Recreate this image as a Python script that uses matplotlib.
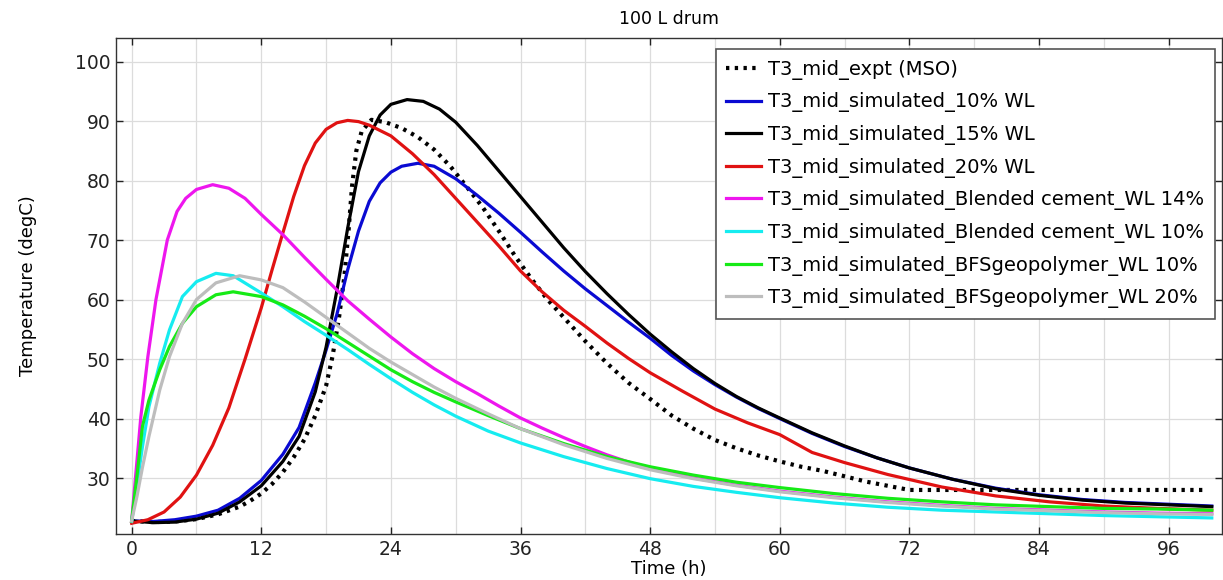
import matplotlib
matplotlib.use('Agg')
import matplotlib.pyplot as plt

# 读图估计的数据（时间 h，温度 degC）
expt_t = [0, 2, 4, 6, 8, 10, 11, 12, 13, 14, 15, 16, 17, 18, 18.6, 19.2, 19.7, 20.1, 20.4, 20.8, 21.3, 22.2,
          23.5, 25, 26.5, 28, 29.5, 31, 32.5, 34, 35.5, 37, 38.5, 40, 42, 44, 46, 48, 50, 52, 54, 56, 58, 60,
          62, 64, 66, 68, 70, 72, 76, 80, 84, 88, 92, 96, 99.5]
expt_T = [22.8, 22.6, 22.7, 23.1, 23.9, 25.2, 26.2, 27.4, 29.0, 31.0, 33.5, 36.5, 40.5, 45.5, 50.5, 57.0, 64.0,
          72.0, 79.0, 85.0, 88.3, 90.2, 89.8, 88.8, 87.3, 85.2, 82.4, 79.0, 75.5, 71.5, 67.3, 63.5, 60.0, 57.0,
          53.0, 49.3, 46.0, 43.3, 40.5, 38.3, 36.4, 35.0, 33.8, 32.8, 31.9, 31.2, 30.3, 29.4, 28.7, 28.0,
          28.0, 28.0, 28.0, 28.0, 28.0, 28.0, 28.0]

blue_t = [0, 2, 4, 6, 8, 10, 12, 14, 15.5, 17, 18, 19, 20, 21, 22, 23, 24, 25, 26.5, 28,
          30, 32, 34, 36, 38, 40, 42, 44, 46, 48, 50, 52, 54, 56, 58, 60, 63, 66, 69, 72,
          76, 80, 84, 88, 92, 96, 100]
blue_T = [22.8, 22.7, 23.0, 23.6, 24.6, 26.6, 29.6, 34.0, 38.5, 46.0, 51.5, 57.5, 65.0, 71.5, 76.5, 79.6,
          81.4, 82.4, 82.9, 82.4, 80.3, 77.5, 74.5, 71.3, 68.0, 64.8, 61.8, 59.0, 56.2, 53.5, 50.6, 48.0,
          45.7, 43.6, 41.7, 40.0, 37.5, 35.3, 33.4, 31.7, 29.8, 28.3, 27.2, 26.4, 25.9, 25.6, 25.3]

black_t = [0, 2, 4, 6, 8, 10, 12, 14, 15.5, 17, 18, 19, 20, 21, 22, 23, 24, 25.5, 27, 28.5,
           30, 32, 34, 36, 38, 40, 42, 44, 46, 48, 50, 52, 54, 56, 58, 60, 63, 66, 69, 72,
           76, 80, 84, 88, 92, 96, 100]
black_T = [22.8, 22.5, 22.6, 23.1, 24.1, 26.0, 28.7, 32.8, 37.0, 44.5, 52.0, 61.5, 72.0, 81.5, 87.5, 91.0,
           92.8, 93.6, 93.3, 92.0, 89.8, 85.9, 81.6, 77.3, 73.0, 68.7, 64.7, 61.0, 57.5, 54.2, 51.2, 48.4,
           45.9, 43.7, 41.8, 40.1, 37.6, 35.4, 33.4, 31.7, 29.8, 28.2, 27.1, 26.3, 25.8, 25.5, 25.2]

red_t = [0, 1.5, 3, 4.5, 6, 7.5, 9, 10.5, 12, 13, 14, 15, 16, 17, 18, 19, 20, 21, 22,
         24, 26, 28, 30, 32, 34, 36, 38, 40, 42, 44, 46, 48, 51, 54, 57, 60, 63, 66,
         70, 75, 80, 85, 90, 95, 100]
red_T = [22.4, 23.0, 24.3, 26.8, 30.5, 35.5, 41.8, 50.0, 58.6, 65.0, 71.2, 77.3, 82.5, 86.3, 88.6, 89.7,
         90.1, 89.9, 89.3, 87.5, 84.5, 81.0, 77.0, 73.0, 69.0, 64.8, 61.3, 58.2, 55.5, 52.7, 50.1, 47.7,
         44.6, 41.6, 39.3, 37.3, 34.3, 32.6, 30.6, 28.5, 27.0, 26.0, 25.3, 24.9, 24.6]

mag_t = [0, 0.4, 0.85, 1.5, 2.25, 3.3, 4.2, 5, 6, 7.5, 9, 10.5, 12, 14, 16, 18, 20,
         22, 24, 26, 28, 30, 32, 34, 36, 38, 40, 42, 44, 46, 48,
         52, 56, 60, 65, 70, 75, 80, 85, 90, 95, 100]
mag_T = [22.8, 31.0, 40.3, 50.4, 60.0, 70.0, 74.8, 77.0, 78.5, 79.3, 78.7, 77.0, 74.3, 70.9, 67.1, 63.4,
         59.8, 56.7, 53.7, 50.9, 48.4, 46.2, 44.2, 42.1, 40.1, 38.4, 36.8, 35.3, 33.9, 32.7, 31.6,
         30.0, 28.8, 27.8, 26.8, 26.0, 25.4, 24.9, 24.6, 24.3, 24.1, 24.0]

cyan_t = [0, 0.5, 1.0, 1.6, 2.6, 3.5, 4.7, 6, 7.8, 9.4, 12, 14, 16, 18, 20, 22, 24, 26, 28, 30,
          33, 36, 40, 44, 48, 52, 56, 60, 65, 70, 75, 80, 85, 90, 95, 100]
cyan_T = [22.7, 29.0, 35.3, 42.0, 49.3, 54.9, 60.5, 63.0, 64.4, 64.0, 61.1, 58.8, 56.3, 54.0, 51.6, 49.1,
          46.7, 44.4, 42.3, 40.4, 37.9, 35.9, 33.6, 31.6, 29.9, 28.6, 27.6, 26.7, 25.8, 25.1, 24.6, 24.3,
          24.0, 23.7, 23.5, 23.3]

green_t = [0, 0.5, 1.0, 1.6, 2.6, 3.5, 4.7, 6, 7.8, 9.4, 12, 14, 16, 18, 20, 22, 24, 26, 28, 30,
           33, 36, 40, 44, 48, 52, 56, 60, 65, 70, 75, 80, 85, 90, 95, 100]
green_T = [22.8, 30.5, 38.7, 43.1, 48.2, 52.1, 56.0, 58.8, 60.8, 61.3, 60.5, 59.1, 57.2, 55.1, 52.8, 50.5,
           48.2, 46.2, 44.4, 42.8, 40.5, 38.3, 35.8, 33.6, 31.9, 30.5, 29.3, 28.4, 27.4, 26.6, 26.0, 25.5,
           25.2, 24.9, 24.8, 24.6]

gray_t = [0, 0.5, 1.0, 1.6, 2.6, 3.5, 4.7, 6, 7.8, 10, 12, 14, 16, 18, 20, 22, 24, 26, 28, 30,
          33, 36, 40, 44, 48, 52, 56, 60, 65, 70, 75, 80, 85, 90, 95, 100]
gray_T = [22.8, 27.0, 31.8, 37.0, 44.8, 50.4, 56.0, 60.0, 62.8, 64.0, 63.3, 62.0, 59.6, 57.0, 54.4, 51.8,
          49.5, 47.4, 45.3, 43.4, 40.8, 38.3, 35.6, 33.3, 31.4, 29.9, 28.7, 27.7, 26.7, 25.9, 25.3, 24.8,
          24.5, 24.2, 24.0, 23.9]

labels = ['T3_mid_expt (MSO)',
          'T3_mid_simulated_10% WL',
          'T3_mid_simulated_15% WL',
          'T3_mid_simulated_20% WL',
          'T3_mid_simulated_Blended cement_WL 14%',
          'T3_mid_simulated_Blended cement_WL 10%',
          'T3_mid_simulated_BFSgeopolymer_WL 10%',
          'T3_mid_simulated_BFSgeopolymer_WL 20%']

series = [(expt_t, expt_T), (blue_t, blue_T), (black_t, black_T), (red_t, red_T),
          (mag_t, mag_T), (cyan_t, cyan_T), (green_t, green_T), (gray_t, gray_T)]
colors = ['black', '#0a0ad2', 'black', '#e01212', '#ee16ee', '#16ecf0', '#16ea16', '#bdbdbd']

fig = plt.figure(figsize=(12.23, 5.8), dpi=100)
ax = fig.add_axes([116 / 1223, 1 - 534 / 580, (1221.5 - 116) / 1223, (534 - 37.7) / 580])

for i, ((t, T), c, lab) in enumerate(zip(series, colors, labels)):
    if i == 0:
        ax.plot(t, T, color=c, lw=3.0, linestyle=(0, (0.8, 1.3)), label=lab)
    else:
        ax.plot(t, T, color=c, lw=2.3, label=lab)

ax.set_xlim(-1.45, 100.9)
ax.set_ylim(20.6, 104.0)
ax.set_xticks(range(0, 97, 12))
ax.set_xticks(range(6, 100, 12), minor=True)
ax.set_yticks(range(30, 101, 10))
ax.grid(True, which='both', axis='x', color='#dcdcdc', lw=0.9)
ax.grid(True, which='major', axis='y', color='#dcdcdc', lw=0.9)
ax.set_axisbelow(True)
ax.tick_params(which='major', direction='in', top=True, right=True, length=5, width=1,
               labelsize=13.5, pad=4, colors='#222222')
ax.tick_params(which='minor', length=0)
for s in ax.spines.values():
    s.set_color('#333333')
    s.set_linewidth(1)

ax.set_title('100 L drum', fontsize=12.5, pad=10)
ax.set_xlabel('Time (h)', fontsize=13, labelpad=1)
ax.set_ylabel('Temperature (degC)', fontsize=13, labelpad=27)

leg = ax.legend(loc='upper right', bbox_to_anchor=((1215 - 116) / (1221.5 - 116), (534 - 49) / (534 - 37.7)),
                borderaxespad=0, fontsize=14, fancybox=False, framealpha=1, edgecolor='#555555',
                handlelength=1.8, handletextpad=0.35, borderpad=0.55, labelspacing=0.65)
leg.get_frame().set_linewidth(1.2)

fig.savefig('out.png', dpi=100)
